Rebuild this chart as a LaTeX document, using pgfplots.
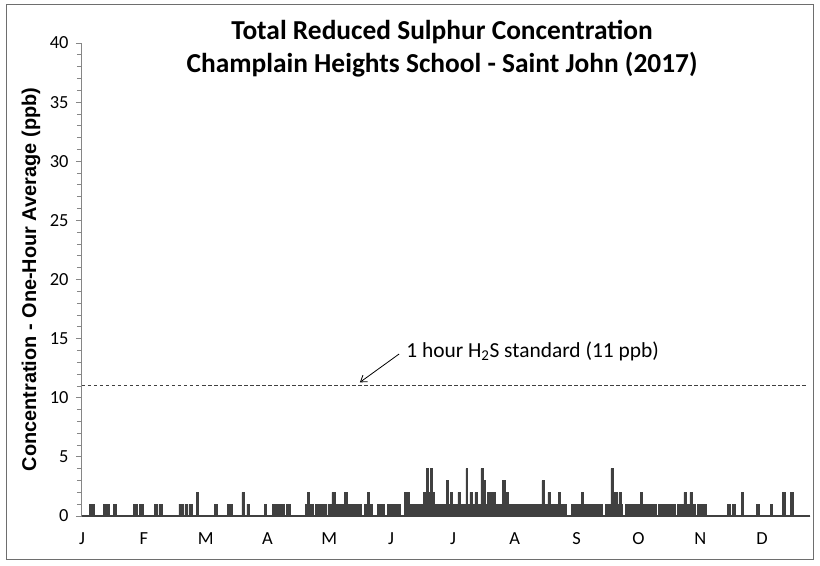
\documentclass[border=0pt]{standalone}
\usepackage{pgfplots}
\pgfplotsset{compat=1.18}
\usepackage{fontspec}
\setmainfont{Carlito}
\newfontfamily\arial{Liberation Sans}
\usetikzlibrary{arrows.meta}
\definecolor{bar}{HTML}{404040}
\definecolor{axgray}{HTML}{868686}
\definecolor{frame}{HTML}{6E6E6E}
\begin{document}
\begin{tikzpicture}
\begin{axis}[
 scale only axis, width=728bp, height=473bp,
 xmin=0, xmax=365, ymin=0, ymax=40,
 axis x line*=bottom, axis y line*=left,
 axis line style={axgray, line width=1bp},
 ytick={0,5,...,40}, minor y tick num=4,
 xtick={0,31,...,341}, xticklabels={J,F,M,A,M,J,J,A,S,O,N,D},
 x tick style={draw=none},
 y tick style={axgray, line width=0.8bp},
 tick align=outside, major tick length=6bp, minor tick length=5bp,
 tick label style={font=\fontsize{18.5}{22}\selectfont},
 /pgf/number format/assume math mode=true,
 yticklabel style={xshift=-4bp},
 xticklabel style={yshift=-7bp, text height=12bp, text depth=0bp},
 ylabel={Concentration - One-Hour Average (ppb)},
 ylabel style={font=\arial\bfseries\fontsize{20}{22}\selectfont, at={(axis description cs:-0.07,0.5)}, anchor=center},
 title={Total Reduced Sulphur Concentration\\Champlain Heights School - Saint John (2017)},
 title style={font=\bfseries\fontsize{27.5}{33}\selectfont, align=center, at={(axis description cs:0.4945,0.9757)}, anchor=center},
 clip=false,
]
\addplot[const plot, draw=bar, fill=bar, line width=0.8bp] table[x=x,y=y] {
x y
0 0
3.7 1
6.0 0
10.7 1
12.0 0
12.5 1
13.7 0
15.7 1
17.0 0
25.6 1
27.6 0
28.6 1
30.6 0
36.1 1
37.6 0
38.6 1
40.1 0
48.6 1
50.6 0
51.6 1
52.6 0
53.6 1
55.6 0
57.6 2
58.6 0
66.6 1
68.1 0
73.1 1
75.6 0
80.2 2
81.2 0
82.7 1
83.7 0
91.7 1
92.7 0
95.7 1
98.7 0
99.2 1
101.7 0
102.7 1
104.7 0
112.2 1
112.9 2
114.2 1
116.0 0
117.0 1
119.0 0
119.5 1
122.7 0
123.3 1
125.3 2
126.8 1
131.8 2
133.3 1
137.8 0
138.3 1
140.3 0
141.8 1
143.0 2
144.0 1
145.8 0
148.3 1
151.8 0
153.3 1
155.3 0
155.8 1
157.8 0
158.3 1
159.5 0
161.8 2
164.3 1
171.4 2
172.9 4
173.9 2
174.9 4
175.9 2
176.9 1
182.9 3
183.9 1
184.9 2
185.5 1
188.5 2
189.5 1
192.5 4
193.3 1
194.5 2
195.5 1
197.0 2
198.0 1
200.0 4
201.5 3
202.5 1
203.5 2
204.5 1
205.0 2
207.5 1
211.0 3
212.5 2
214.0 1
220.5 0
221.0 1
226.0 0
226.5 1
230.6 3
231.6 1
233.6 2
235.0 1
239.0 2
240.0 1
243.0 0
245.5 1
250.6 2
251.6 1
253.0 0
253.5 1
261.0 0
262.5 1
265.2 4
266.2 2
268.2 1
269.2 2
270.2 1
271.0 0
272.5 1
280.2 2
281.2 1
288.0 0
289.0 1
293.5 0
294.0 1
297.5 0
298.5 1
301.8 2
302.8 1
304.8 2
305.8 1
307.5 0
308.5 1
311.0 0
311.5 1
313.3 0
323.8 1
325.3 0
326.3 1
327.8 0
330.8 2
331.8 0
338.3 1
339.8 0
345.3 1
346.3 0
351.4 2
352.9 0
355.4 2
356.9 0
365 0
} \closedcycle;
\addplot[bar, line width=1.6bp] coordinates {(0,0) (365,0)};
\addplot[bar, line width=1bp, dash pattern=on 3.5bp off 2.5bp] coordinates {(0,11) (363,11)};
\draw[-{Straight Barb[length=6bp,width=8bp]}, line width=0.8bp] (axis cs:159,13.7) -- (axis cs:139.3,11.3);
\node[anchor=west, inner sep=0pt, font=\fontsize{21.5}{24}\selectfont] at (axis cs:162.5,13.9) {1 hour H\textsubscript{2}S standard (11 ppb)};
\end{axis}
\draw[frame, line width=1bp] ([shift={(-75.5bp,-44bp)}]current axis.south west) rectangle ([shift={(3.5bp,38.5bp)}]current axis.north east);
\pgfresetboundingbox
\path ([shift={(-82bp,-50bp)}]current axis.south west) rectangle ([shift={(10bp,43bp)}]current axis.north east);
\end{tikzpicture}
\end{document}
